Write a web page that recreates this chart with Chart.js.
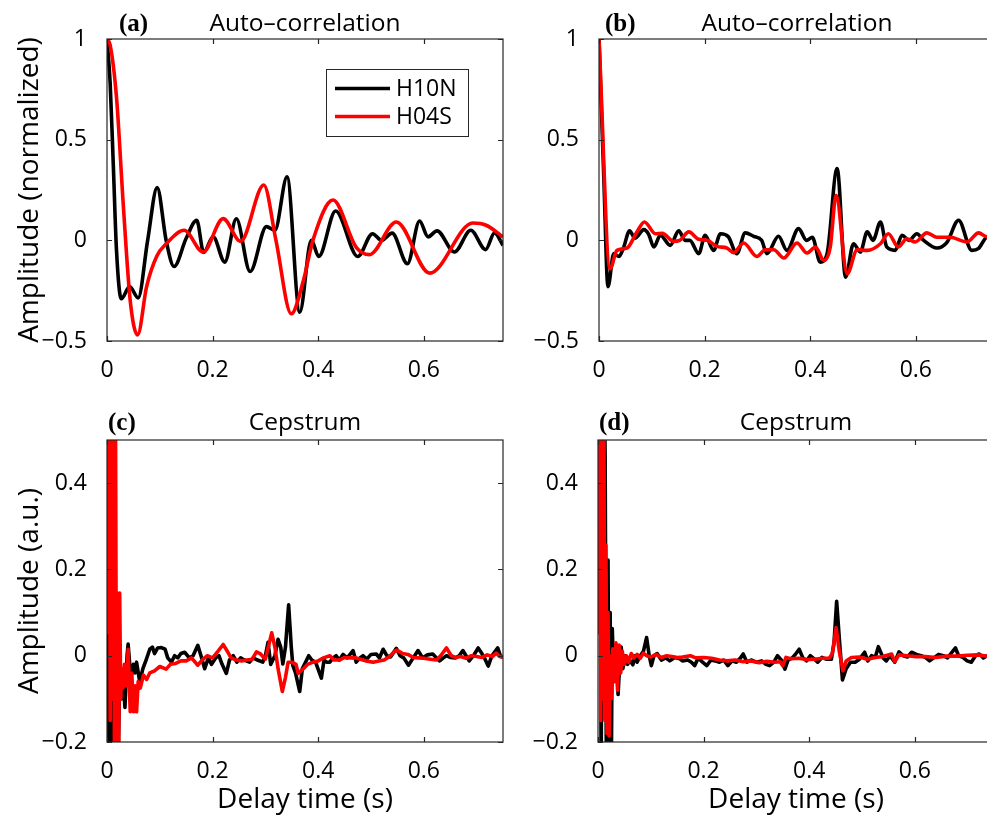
<!DOCTYPE html>
<html>
<head>
<meta charset="utf-8">
<script src="https://cdn.jsdelivr.net/npm/chart.js@4.4.1/dist/chart.umd.min.js"></script>
<style>
  html, body { margin: 0; padding: 0; background: #fff; overflow: hidden; width: 987px; height: 817px; }
  canvas { position: absolute; }
</style>
</head>
<body>
<canvas id="panel-a" width="520" height="410" style="left:0;top:0"></canvas>
<canvas id="panel-b" width="520" height="410" style="left:492px;top:0"></canvas>
<canvas id="panel-c" width="520" height="407" style="left:0;top:410px"></canvas>
<canvas id="panel-d" width="520" height="407" style="left:491px;top:410px"></canvas>
<script>
// ---- data ----
const seriesNames = ['H10N', 'H04S'];
const seriesColors = ['#000000', '#ff0000'];

const xTicks = [0, 0.2, 0.4, 0.6];
const xTickLabels = ['0', '0.2', '0.4', '0.6'];
const acTicks = [-0.5, 0, 0.5, 1];
const acTickLabels = ['\u22120.5', '0', '0.5', '1'];
const cepTicks = [-0.2, 0, 0.2, 0.4];
const cepTickLabels = ['\u22120.2', '0', '0.2', '0.4'];

// (a) auto-correlation, H10N / H04S
const aBlackT = [0, 0.006, 0.012, 0.018, 0.027, 0.043, 0.059, 0.077, 0.095, 0.112, 0.127, 0.15, 0.17, 0.183, 0.201, 0.223, 0.245, 0.271, 0.302, 0.318, 0.341, 0.365, 0.387, 0.401, 0.433, 0.475, 0.503, 0.52, 0.54, 0.569, 0.592, 0.608, 0.625, 0.658, 0.689, 0.717, 0.734, 0.75];
const aBlackV = [1, 0.78, 0.37, -0.05, -0.29, -0.23, -0.286, 0.0, 0.262, 0.0, -0.13, 0.01, 0.10, -0.06, 0.018, -0.108, 0.107, -0.155, 0.068, 0.05, 0.315, -0.357, 0.0, -0.08, 0.146, -0.08, 0.033, 0.0, 0.036, -0.116, 0.096, 0.017, 0.047, -0.058, 0.05, -0.046, 0.037, -0.025];
const aRedT = [0, 0.006, 0.018, 0.031, 0.044, 0.058, 0.075, 0.094, 0.113, 0.146, 0.182, 0.220, 0.253, 0.297, 0.320, 0.349, 0.372, 0.390, 0.428, 0.472, 0.497, 0.548, 0.611, 0.693, 0.718, 0.75];
const aRedV = [1, 0.97, 0.71, 0.17, -0.30, -0.47, -0.23, -0.08, -0.015, 0.05, -0.058, 0.108, -0.005, 0.275, 0.0, -0.365, -0.2, 0.0, 0.20, -0.035, -0.071, 0.091, -0.163, 0.086, 0.075, 0.017];

// (b) auto-correlation, second station pair
const bBlackT = [0, 0.005, 0.009, 0.017, 0.028, 0.038, 0.046, 0.058, 0.068, 0.085, 0.094, 0.104, 0.116, 0.135, 0.151, 0.163, 0.172, 0.189, 0.201, 0.217, 0.230, 0.245, 0.261, 0.277, 0.293, 0.308, 0.318, 0.340, 0.356, 0.378, 0.393, 0.404, 0.419, 0.432, 0.451, 0.467, 0.482, 0.495, 0.508, 0.519, 0.533, 0.545, 0.561, 0.574, 0.587, 0.602, 0.615, 0.640, 0.659, 0.681, 0.706, 0.719, 0.735, 0.75];
const bBlackV = [1, 0.62, 0.32, -0.23, -0.066, -0.08, -0.04, 0.047, 0.01, 0.053, 0.03, -0.033, 0.025, -0.025, 0.047, 0.0, 0.0, -0.066, 0.025, -0.05, 0.033, 0.018, -0.066, 0.037, 0.02, 0.0, -0.066, 0.02, -0.05, 0.058, 0.0, 0.015, -0.108, -0.066, 0.357, -0.183, -0.017, -0.058, 0.042, 0.0, 0.091, -0.033, -0.05, 0.025, 0.0, 0.033, 0.0, -0.038, -0.01, 0.1, -0.05, -0.04, 0.017, 0.02];
const bRedT = [0, 0.021, 0.034, 0.053, 0.072, 0.086, 0.107, 0.120, 0.141, 0.153, 0.170, 0.189, 0.205, 0.223, 0.242, 0.255, 0.274, 0.299, 0.315, 0.331, 0.350, 0.375, 0.394, 0.410, 0.426, 0.438, 0.449, 0.470, 0.489, 0.508, 0.533, 0.548, 0.567, 0.583, 0.599, 0.621, 0.640, 0.665, 0.697, 0.719, 0.735, 0.75];
const bRedV = [1, -0.141, -0.05, -0.038, 0.042, 0.091, 0.033, 0.035, -0.005, 0.0, 0.042, 0.005, 0.0, -0.03, -0.038, -0.061, -0.013, -0.08, -0.047, -0.047, -0.088, -0.013, -0.063, -0.033, -0.1, -0.033, 0.224, -0.166, -0.047, -0.05, -0.017, 0.033, -0.033, 0.008, -0.008, 0.037, 0.015, 0.015, -0.008, 0.037, 0.017, 0.02];

// (c) cepstrum
const cBlackT = [0, 0.003, 0.006, 0.009, 0.012, 0.015, 0.018, 0.021, 0.024, 0.027, 0.030, 0.034, 0.038, 0.040, 0.043, 0.046, 0.050, 0.053, 0.056, 0.062, 0.068, 0.074, 0.081, 0.086, 0.090, 0.096, 0.103, 0.110, 0.115, 0.122, 0.128, 0.134, 0.140, 0.147, 0.156, 0.163, 0.172, 0.178, 0.185, 0.192, 0.198, 0.206, 0.212, 0.218, 0.226, 0.232, 0.239, 0.246, 0.253, 0.260, 0.270, 0.277, 0.285, 0.295, 0.300, 0.305, 0.310, 0.318, 0.324, 0.329, 0.333, 0.338, 0.344, 0.349, 0.352, 0.357, 0.365, 0.370, 0.376, 0.382, 0.388, 0.395, 0.406, 0.411, 0.416, 0.422, 0.428, 0.434, 0.440, 0.447, 0.455, 0.466, 0.472, 0.479, 0.485, 0.492, 0.500, 0.510, 0.516, 0.523, 0.530, 0.537, 0.548, 0.555, 0.562, 0.571, 0.580, 0.589, 0.598, 0.607, 0.617, 0.624, 0.630, 0.637, 0.643, 0.650, 0.660, 0.667, 0.674, 0.680, 0.686, 0.694, 0.703, 0.710, 0.716, 0.722, 0.729, 0.740, 0.745, 0.75];
const cBlackV = [0.9, -0.3, 0.5, -0.3, 0.2, -0.3, 0.0, -0.25, -0.05, -0.1, -0.05, -0.12, 0.0, 0.027, -0.02, -0.046, -0.02, -0.04, -0.015, -0.06, -0.03, -0.01, 0.015, 0.02, 0.005, 0.018, 0.019, 0.015, -0.005, -0.015, 0.0, -0.005, 0.005, 0.008, -0.005, 0.0, 0.024, 0.0, -0.03, -0.005, -0.02, -0.005, 0.0, -0.02, -0.041, -0.01, 0.0, -0.015, -0.005, -0.01, -0.015, -0.005, -0.01, -0.015, 0.0, 0.031, -0.02, 0.0, 0.038, 0.02, -0.019, 0.02, 0.118, 0.02, -0.023, -0.04, -0.083, -0.03, -0.015, 0.0, -0.01, -0.015, -0.052, -0.01, -0.015, -0.015, -0.005, 0.0, -0.01, 0.003, -0.005, 0.012, -0.015, -0.005, 0.0, -0.008, 0.003, 0.004, -0.005, 0.015, 0.0, -0.003, 0.017, 0.0, -0.005, -0.022, -0.005, 0.012, -0.005, 0.002, 0.004, -0.005, -0.012, -0.005, 0.0, -0.004, -0.005, 0.0, 0.012, 0.0, -0.012, 0.0, 0.018, 0.005, -0.008, -0.024, 0.0, 0.018, 0.0, -0.004];
const cRedT = [0, 0.004, 0.006, 0.008, 0.010, 0.012, 0.014, 0.016, 0.018, 0.020, 0.022, 0.024, 0.026, 0.028, 0.030, 0.033, 0.036, 0.040, 0.044, 0.047, 0.050, 0.053, 0.056, 0.059, 0.063, 0.069, 0.075, 0.081, 0.090, 0.100, 0.112, 0.120, 0.130, 0.140, 0.150, 0.160, 0.172, 0.180, 0.190, 0.200, 0.210, 0.220, 0.228, 0.235, 0.245, 0.255, 0.265, 0.275, 0.283, 0.290, 0.300, 0.312, 0.318, 0.324, 0.332, 0.338, 0.343, 0.350, 0.358, 0.362, 0.372, 0.380, 0.390, 0.400, 0.410, 0.422, 0.430, 0.440, 0.450, 0.460, 0.470, 0.480, 0.490, 0.504, 0.515, 0.525, 0.535, 0.545, 0.549, 0.560, 0.570, 0.580, 0.590, 0.600, 0.612, 0.624, 0.632, 0.643, 0.652, 0.660, 0.670, 0.680, 0.690, 0.700, 0.710, 0.720, 0.730, 0.737, 0.744, 0.75];
const cRedV = [0.05, 0.9, -0.15, 0.9, -0.1, 0.9, -0.2, 0.6, -0.22, 0.145, -0.25, 0.145, -0.1, -0.03, -0.075, -0.02, -0.07, 0.015, -0.13, -0.04, -0.13, -0.07, -0.13, -0.06, -0.075, -0.045, -0.055, -0.04, -0.035, -0.025, -0.031, -0.02, -0.018, -0.012, -0.012, -0.005, -0.022, -0.01, 0.0, -0.005, 0.01, 0.026, 0.01, -0.005, -0.01, -0.012, -0.01, -0.008, 0.009, 0.005, -0.008, 0.053, 0.02, -0.03, -0.083, -0.05, -0.015, -0.015, -0.02, -0.041, -0.03, -0.02, -0.015, -0.012, -0.005, 0.0, -0.01, -0.01, -0.004, -0.005, -0.005, -0.008, -0.012, -0.015, -0.012, -0.01, -0.002, 0.01, 0.013, 0.005, 0.003, -0.004, -0.005, -0.006, -0.008, -0.01, 0.0, 0.018, 0.0, -0.004, -0.002, -0.006, 0.0, -0.002, -0.004, 0.002, -0.002, 0.006, -0.002, -0.004];

// (d) cepstrum, second station pair
const dBlackT = [0, 0.003, 0.006, 0.009, 0.0135, 0.016, 0.019, 0.021, 0.023, 0.025, 0.027, 0.030, 0.034, 0.038, 0.041, 0.044, 0.047, 0.052, 0.056, 0.060, 0.066, 0.070, 0.074, 0.080, 0.086, 0.092, 0.097, 0.101, 0.106, 0.112, 0.120, 0.128, 0.136, 0.145, 0.155, 0.160, 0.170, 0.177, 0.183, 0.190, 0.198, 0.206, 0.214, 0.222, 0.230, 0.238, 0.246, 0.254, 0.262, 0.270, 0.275, 0.282, 0.290, 0.300, 0.310, 0.318, 0.325, 0.333, 0.340, 0.347, 0.354, 0.360, 0.368, 0.375, 0.381, 0.388, 0.395, 0.402, 0.410, 0.416, 0.424, 0.432, 0.442, 0.447, 0.452, 0.457, 0.463, 0.470, 0.478, 0.487, 0.495, 0.505, 0.511, 0.518, 0.525, 0.531, 0.540, 0.546, 0.553, 0.562, 0.570, 0.578, 0.586, 0.594, 0.603, 0.612, 0.620, 0.628, 0.636, 0.645, 0.654, 0.662, 0.677, 0.683, 0.691, 0.699, 0.707, 0.715, 0.722, 0.730, 0.737, 0.75];
const dBlackV = [0.05, 0.9, -0.3, 0.9, 0.46, -0.3, 0.222, -0.3, 0.1, -0.3, 0.063, -0.05, 0.025, -0.09, -0.02, 0.02, -0.03, 0.0, -0.02, -0.01, -0.021, 0.0, -0.015, 0.0, 0.01, 0.042, 0.0, -0.023, 0.0, 0.005, -0.01, -0.005, -0.012, -0.004, -0.007, -0.012, -0.01, -0.015, -0.023, -0.005, -0.015, -0.023, -0.01, -0.012, -0.015, -0.01, -0.023, -0.012, -0.015, -0.005, 0.004, -0.015, -0.01, -0.015, -0.012, -0.02, -0.023, -0.015, 0.0, -0.01, -0.031, -0.01, -0.005, 0.005, 0.015, -0.005, -0.012, 0.0, -0.008, -0.015, -0.004, -0.008, -0.008, 0.03, 0.126, 0.04, -0.056, -0.03, -0.015, -0.015, -0.008, 0.008, -0.012, 0.0, -0.004, 0.021, -0.005, -0.012, 0.0, -0.015, 0.009, 0.0, -0.003, 0.008, 0.003, 0.0, -0.004, -0.012, -0.005, 0.003, 0.0, -0.005, 0.018, 0.0, -0.004, -0.012, -0.015, 0.0, 0.004, -0.005, 0.0, 0.0];
const dRedT = [0, 0.003, 0.005, 0.007, 0.009, 0.011, 0.013, 0.015, 0.017, 0.019, 0.021, 0.023, 0.025, 0.028, 0.031, 0.034, 0.037, 0.040, 0.043, 0.046, 0.050, 0.054, 0.058, 0.063, 0.068, 0.074, 0.080, 0.086, 0.092, 0.100, 0.110, 0.120, 0.130, 0.140, 0.150, 0.160, 0.175, 0.185, 0.200, 0.215, 0.230, 0.245, 0.260, 0.275, 0.290, 0.305, 0.320, 0.335, 0.345, 0.350, 0.356, 0.365, 0.380, 0.395, 0.410, 0.425, 0.438, 0.444, 0.451, 0.457, 0.464, 0.470, 0.480, 0.495, 0.510, 0.525, 0.540, 0.556, 0.562, 0.570, 0.585, 0.600, 0.620, 0.640, 0.660, 0.680, 0.700, 0.720, 0.740, 0.75];
const dRedV = [0.05, 0.9, -0.15, 0.9, -0.1, 0.6, -0.15, 0.256, -0.18, 0.10, -0.186, 0.0, -0.1, 0.016, -0.06, 0.03, -0.08, 0.025, -0.04, 0.01, -0.02, 0.0, -0.015, 0.005, -0.005, 0.003, -0.006, 0.006, 0.0, -0.003, 0.003, -0.004, 0.0, -0.002, -0.004, -0.003, 0.0, -0.005, -0.004, -0.006, -0.01, -0.012, -0.01, -0.014, -0.012, -0.016, -0.013, -0.015, -0.014, -0.023, -0.004, -0.007, -0.006, -0.009, -0.008, -0.006, -0.006, 0.005, 0.065, 0.01, -0.035, -0.012, -0.004, -0.003, -0.008, -0.004, -0.002, 0.004, -0.014, 0.002, 0.0, -0.002, -0.002, -0.004, -0.001, -0.001, 0.001, 0.002, -0.002, 0.0];

// ---- drawing ----
const FONT = "'Open Sans', 'Noto Sans', sans-serif";
const AXIS_COLOR = '#262626';
const LINE_W = 3.6;

function pickLabel(values, labels, v) {
    const i = values.findIndex(t => Math.abs(t - v) < 1e-9);
    return i >= 0 ? labels[i] : '';
}

// frame, inward ticks on all four sides, title, panel letter and legend
const matlabAxes = {
    id: 'matlabAxes',
    afterDatasetsDraw(chart, args, opts) {
        const { ctx, chartArea: ca, scales } = chart;
        ctx.save();
        ctx.strokeStyle = AXIS_COLOR;
        ctx.lineWidth = 1.2;
        ctx.strokeRect(ca.left, ca.top, ca.right - ca.left, ca.bottom - ca.top);
        const tl = 5;
        ctx.beginPath();
        scales.x.ticks.forEach(t => {
            const px = Math.round(scales.x.getPixelForValue(t.value)) + 0.5;
            ctx.moveTo(px, ca.bottom); ctx.lineTo(px, ca.bottom - tl);
            ctx.moveTo(px, ca.top); ctx.lineTo(px, ca.top + tl);
        });
        scales.y.ticks.forEach(t => {
            const py = Math.round(scales.y.getPixelForValue(t.value)) + 0.5;
            ctx.moveTo(ca.left, py); ctx.lineTo(ca.left + tl, py);
            ctx.moveTo(ca.right, py); ctx.lineTo(ca.right - tl, py);
        });
        ctx.stroke();

        // title and panel letter
        ctx.fillStyle = '#000';
        ctx.textBaseline = 'alphabetic';
        ctx.textAlign = 'center';
        ctx.font = '24.5px ' + FONT;
        ctx.fillText(opts.title, (ca.left + ca.right) / 2, ca.top - opts.titleGap);
        ctx.textAlign = 'left';
        ctx.font = "bold 25px 'Liberation Serif', 'Times New Roman', serif";
        ctx.fillText(opts.letter, ca.left + opts.letterDx, ca.top - opts.titleGap);

        if (opts.legend) {
            const w = 142, h = 67;
            const x0 = ca.right - 35 - w, y0 = ca.top + 30;
            ctx.fillStyle = '#fff';
            ctx.fillRect(x0, y0, w, h);
            ctx.strokeStyle = AXIS_COLOR;
            ctx.lineWidth = 1;
            ctx.strokeRect(x0 + 0.5, y0 + 0.5, w, h);
            chart.data.datasets.forEach((ds, i) => {
                const ly = y0 + 19.5 + i * 28;
                ctx.strokeStyle = ds.borderColor;
                ctx.lineWidth = LINE_W;
                ctx.beginPath();
                ctx.moveTo(x0 + 9, ly); ctx.lineTo(x0 + 64, ly);
                ctx.stroke();
                ctx.fillStyle = '#000';
                ctx.font = '23px ' + FONT;
                ctx.textBaseline = 'middle';
                ctx.fillText(ds.label, x0 + 70, ly + 1);
            });
        }
        ctx.restore();
    }
};

function makePanel(id, cfg) {
    const series = [[cfg.blackT, cfg.blackV], [cfg.redT, cfg.redV]];
    const ctx = document.getElementById(id).getContext('2d');
    return new Chart(ctx, {
        type: 'line',
        data: {
            datasets: series.map((s, i) => ({
                label: seriesNames[i],
                data: s[0].map((t, j) => ({ x: t, y: s[1][j] })),
                borderColor: seriesColors[i],
                borderWidth: LINE_W,
                pointRadius: 0,
                fill: false,
                order: 2 - i,
                cubicInterpolationMode: cfg.smooth ? 'monotone' : 'default',
                tension: 0,
                borderJoinStyle: 'round'
            }))
        },
        options: {
            responsive: false,
            animation: false,
            events: [],
            layout: { padding: { top: cfg.padTop, right: 17, left: 0, bottom: 0 } },
            plugins: {
                legend: { display: false },
                tooltip: { enabled: false },
                matlabAxes: {
                    title: cfg.title, letter: cfg.letter, letterDx: cfg.letterDx,
                    titleGap: cfg.titleGap, legend: !!cfg.legend
                }
            },
            scales: {
                x: {
                    type: 'linear',
                    min: 0, max: 0.75,
                    afterBuildTicks: s => { s.ticks = xTicks.map(v => ({ value: v })); },
                    afterFit: s => { s.height = cfg.xHeight; },
                    grid: { display: false },
                    border: { display: false },
                    ticks: {
                        color: '#000', padding: 8, maxRotation: 0,
                        font: { family: FONT, size: 23 },
                        callback: v => pickLabel(xTicks, xTickLabels, v)
                    },
                    title: {
                        display: !!cfg.xTitle, text: cfg.xTitle || '', color: '#000',
                        font: { family: FONT, size: 28 }, padding: { top: 0, bottom: 0 }
                    }
                },
                y: {
                    type: 'linear',
                    min: cfg.yMin, max: cfg.yMax,
                    afterBuildTicks: s => { s.ticks = cfg.yTicks.map(v => ({ value: v })); },
                    afterFit: s => { s.width = 107; },
                    grid: { display: false },
                    border: { display: false },
                    ticks: {
                        color: '#000', padding: 12,
                        font: { family: FONT, size: 23 },
                        callback: v => pickLabel(cfg.yTicks, cfg.yLabels, v)
                    },
                    title: {
                        display: !!cfg.yTitle, text: cfg.yTitle || '', color: '#000',
                        font: { family: FONT, size: 28 }, padding: { top: 13, bottom: 0 }
                    }
                }
            }
        },
        plugins: [matlabAxes]
    });
}

makePanel('panel-a', {
    blackT: aBlackT, blackV: aBlackV, redT: aRedT, redV: aRedV, smooth: true,
    yMin: -0.5, yMax: 1, yTicks: acTicks, yLabels: acTickLabels,
    yTitle: 'Amplitude (normalized)', title: 'Auto\u2013correlation', letter: '(a)', letterDx: 12,
    padTop: 39, xHeight: 69, titleGap: 8, legend: true
});
makePanel('panel-b', {
    blackT: bBlackT, blackV: bBlackV, redT: bRedT, redV: bRedV, smooth: true,
    yMin: -0.5, yMax: 1, yTicks: acTicks, yLabels: acTickLabels,
    title: 'Auto\u2013correlation', letter: '(b)', letterDx: 6,
    padTop: 39, xHeight: 69, titleGap: 8
});
makePanel('panel-c', {
    blackT: cBlackT, blackV: cBlackV, redT: cRedT, redV: cRedV, smooth: false,
    yMin: -0.2, yMax: 0.5, yTicks: cepTicks, yLabels: cepTickLabels,
    yTitle: 'Amplitude (a.u.)', xTitle: 'Delay time (s)', title: 'Cepstrum', letter: '(c)', letterDx: 1,
    padTop: 30, xHeight: 75, titleGap: 10
});
makePanel('panel-d', {
    blackT: dBlackT, blackV: dBlackV, redT: dRedT, redV: dRedV, smooth: false,
    yMin: -0.2, yMax: 0.5, yTicks: cepTicks, yLabels: cepTickLabels,
    xTitle: 'Delay time (s)', title: 'Cepstrum', letter: '(d)', letterDx: 1,
    padTop: 30, xHeight: 75, titleGap: 10
});
</script>
</body>
</html>
